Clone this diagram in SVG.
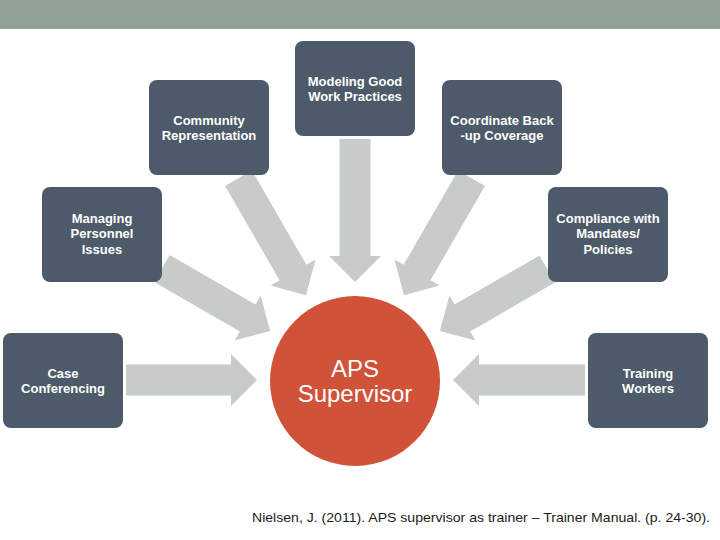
<svg xmlns="http://www.w3.org/2000/svg" width="720" height="540" viewBox="0 0 720 540">
<style>
.box{fill:#4d5a69}
.arr{fill:#c8ccc9}
.lbl{font-family:"Liberation Sans",Arial,sans-serif;font-weight:bold;font-size:13px;fill:#ffffff;text-anchor:middle}
.ctr{font-family:"Liberation Sans",Arial,sans-serif;font-size:24px;fill:#ffffff;text-anchor:middle}
.cite{font-family:"Liberation Sans",Arial,sans-serif;font-size:13px;fill:#1a1a1a}
</style>
<defs>
<path id="a229" d="M229,-15.5 L124,-15.5 L124,-26 L98,0 L124,26 L124,15.5 L229,15.5 Z"/>
</defs>
<rect x="0" y="0" width="720" height="29" fill="#91a195"/>
<g id="connectors">
<g transform="translate(355,380)">
<path class="arr" transform="rotate(180)" d="M229,-15.5 L124,-15.5 L124,-26 L98,0 L124,26 L124,15.5 L229,15.5 Z"/>
<path class="arr" transform="rotate(210)" d="M223,-15.5 L124,-15.5 L124,-26 L98,0 L124,26 L124,15.5 L223,15.5 Z"/>
<path class="arr" transform="rotate(240)" d="M233,-15.5 L124,-15.5 L124,-26 L98,0 L124,26 L124,15.5 L233,15.5 Z"/>
<path class="arr" transform="rotate(270)" d="M241,-15.5 L124,-15.5 L124,-26 L98,0 L124,26 L124,15.5 L241,15.5 Z"/>
<path class="arr" transform="rotate(300)" d="M233,-15.5 L124,-15.5 L124,-26 L98,0 L124,26 L124,15.5 L233,15.5 Z"/>
<path class="arr" transform="rotate(330)" d="M222,-15.5 L124,-15.5 L124,-26 L98,0 L124,26 L124,15.5 L222,15.5 Z"/>
<path class="arr" d="M230,-15.5 L124,-15.5 L124,-26 L98,0 L124,26 L124,15.5 L230,15.5 Z"/>
</g>
</g>
<g id="modeling">
<rect class="box" x="295" y="41" width="120" height="95" rx="8"/>
<text class="lbl" x="355" y="85.5">Modeling Good</text>
<text class="lbl" x="355" y="100.5">Work Practices</text>
</g>
<g id="community">
<rect class="box" x="149" y="80" width="120" height="95" rx="8"/>
<text class="lbl" x="209" y="124.5">Community</text>
<text class="lbl" x="209" y="139.5">Representation</text>
</g>
<g id="coordinate">
<rect class="box" x="442" y="80" width="120" height="95" rx="8"/>
<text class="lbl" x="502" y="124.5">Coordinate Back</text>
<text class="lbl" x="502" y="139.5">-up Coverage</text>
</g>
<g id="managing">
<rect class="box" x="42" y="187" width="120" height="95" rx="8"/>
<text class="lbl" x="102" y="223">Managing</text>
<text class="lbl" x="102" y="238">Personnel</text>
<text class="lbl" x="102" y="254">Issues</text>
</g>
<g id="compliance">
<rect class="box" x="548" y="187" width="120" height="95" rx="8"/>
<text class="lbl" x="608" y="223">Compliance with</text>
<text class="lbl" x="608" y="238">Mandates/</text>
<text class="lbl" x="608" y="254">Policies</text>
</g>
<g id="case">
<rect class="box" x="3" y="333" width="120" height="95" rx="8"/>
<text class="lbl" x="63" y="377.5">Case</text>
<text class="lbl" x="63" y="392.5">Conferencing</text>
</g>
<g id="training">
<rect class="box" x="588" y="333" width="120" height="95" rx="8"/>
<text class="lbl" x="648" y="377.5">Training</text>
<text class="lbl" x="648" y="392.5">Workers</text>
</g>
<g id="supervisor">
<circle cx="355" cy="381" r="85" fill="#cf5239"/>
<text class="ctr" x="355" y="376.5">APS</text>
<text class="ctr" x="355" y="401.5">Supervisor</text>
</g>
<text class="cite" x="252" y="522" textLength="458" lengthAdjust="spacingAndGlyphs">Nielsen, J. (2011). APS supervisor as trainer – Trainer Manual. (p. 24-30).</text>
</svg>
